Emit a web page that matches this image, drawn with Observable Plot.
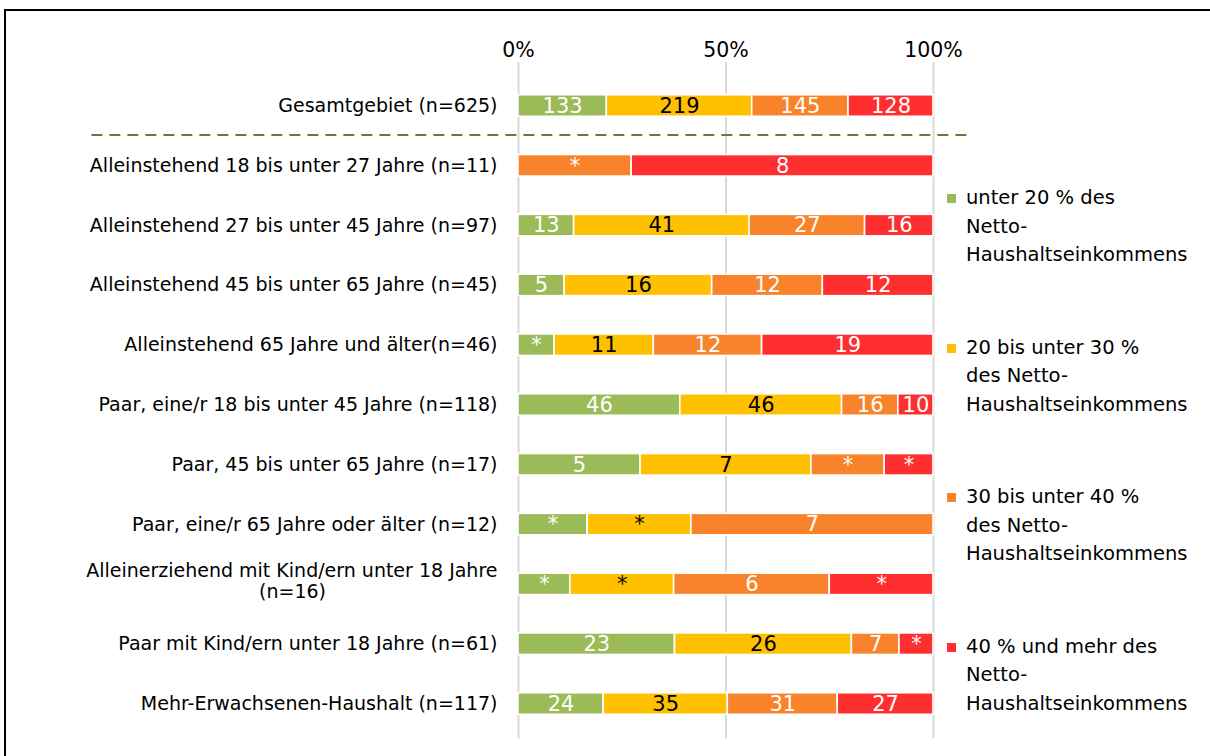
<!DOCTYPE html>
<html>
<head>
<meta charset="utf-8">
<script src="https://cdn.jsdelivr.net/npm/d3@7"></script>
<script src="https://cdn.jsdelivr.net/npm/@observablehq/plot@0.6"></script>
<style>
  html, body { margin: 0; padding: 0; background: #fff; }
  body { width: 1210px; height: 756px; overflow: hidden; position: relative; font-family: "DejaVu Sans", sans-serif; }
  #frame { position: absolute; left: 4px; top: 9px; width: 1300px; height: 900px; border: 2px solid #000; box-sizing: border-box; }
  #chart { position: absolute; left: 0; top: 0; }
  #legend { position: absolute; left: 944px; top: 0; }
  .item { position: absolute; left: 0; width: 266px; font-size: 19.5px; line-height: 28.5px; color: #000; padding-left: 22px; white-space: nowrap; }
  .sw { position: absolute; left: 3px; top: 10px; width: 9px; height: 9px; }
</style>
</head>
<body>
<div id="frame"></div>
<div id="chart"></div>
<div id="legend"></div>
<script>
const categories = [
  "Gesamtgebiet (n=625)",
  "Alleinstehend 18 bis unter 27 Jahre (n=11)",
  "Alleinstehend 27 bis unter 45 Jahre (n=97)",
  "Alleinstehend 45 bis unter 65 Jahre (n=45)",
  "Alleinstehend 65 Jahre und älter(n=46)",
  "Paar, eine/r 18 bis unter 45 Jahre (n=118)",
  "Paar, 45 bis unter 65 Jahre (n=17)",
  "Paar, eine/r 65 Jahre oder älter (n=12)",
  "Alleinerziehend mit Kind/ern unter 18 Jahre (n=16)",
  "Paar mit Kind/ern unter 18 Jahre (n=61)",
  "Mehr-Erwachsenen-Haushalt (n=117)"
];
const seriesNames = [
  "unter 20 % des Netto-Haushaltseinkommens",
  "20 bis unter 30 % des Netto-Haushaltseinkommens",
  "30 bis unter 40 % des Netto-Haushaltseinkommens",
  "40 % und mehr des Netto-Haushaltseinkommens"
];
const legendLines = [
  ["unter 20 % des", "Netto-", "Haushaltseinkommens"],
  ["20 bis unter 30 %", "des Netto-", "Haushaltseinkommens"],
  ["30 bis unter 40 %", "des Netto-", "Haushaltseinkommens"],
  ["40 % und mehr des", "Netto-", "Haushaltseinkommens"]
];
const seriesColors = ["#9BBB59", "#FFC000", "#F8832A", "#FF2F2F"];
const labelColors = ["#fff", "#000", "#fff", "#fff"];
// counts (cells shown as "*" in the chart are estimated from segment widths)
const under20    = [133, 0, 13,  5,  4, 46, 5, 2, 2, 23, 24];
const from20to30 = [219, 0, 41, 16, 11, 46, 7, 3, 4, 26, 35];
const from30to40 = [145, 3, 27, 12, 12, 16, 3, 7, 6,  7, 31];
const over40     = [128, 8, 16, 12, 19, 10, 2, 0, 4,  5, 27];
// [category index, series index] of suppressed (small-n) cells
const suppressed = [[1,2],[4,0],[6,2],[6,3],[7,0],[7,1],[8,0],[8,1],[8,3],[9,3]];
const xTicks = [0, 0.5, 1];
const wrappedCat = categories[8];
const wrappedLines = ["Alleinerziehend mit Kind/ern unter 18 Jahre", "(n=16)"];

const seriesValues = [under20, from20to30, from30to40, over40];
const rows = [];
categories.forEach((c, i) => {
  seriesValues.forEach((vals, s) => {
    if (vals[i] > 0) {
      const sup = suppressed.some(([a, b]) => a === i && b === s);
      rows.push({cat: c, series: seriesNames[s], count: vals[i], label: sup ? "*" : String(vals[i]), lc: labelColors[s]});
    }
  });
});

const stackOpts = {x: "count", y: "cat", z: "series", offset: "normalize", order: seriesNames};

const plot = Plot.plot({
  width: 1210,
  height: 756,
  marginLeft: 518,
  marginRight: 277,
  marginTop: 62,
  marginBottom: 18,
  style: {fontFamily: "DejaVu Sans, sans-serif", fontSize: "19px", color: "#000", background: "transparent"},
  x: {domain: [0, 1], label: null},
  y: {type: "band", domain: categories, range: [75.6, 733.4], paddingInner: 0.64, paddingOuter: 0.32, round: false, label: null},
  color: {domain: seriesNames, range: seriesColors},
  marks: [
    Plot.ruleX(xTicks, {x: d => d, stroke: "#d9d9d9", strokeWidth: 2}),
    Plot.axisX({anchor: "top", ticks: xTicks, tickSize: 0, tickPadding: 6, tickFormat: d => Math.round(d * 100) + "%", fontSize: 20.5, fill: "#000", label: null}),
    Plot.axisY({tickSize: 0, tickPadding: 21, tickFormat: d => d === wrappedCat ? "" : d, fill: "#000", label: null}),
    Plot.text([wrappedLines[0]], {x: 0, y: () => wrappedCat, text: d => d, textAnchor: "end", dx: -21, dy: -13, fill: "#000"}),
    Plot.text([wrappedLines[1]], {x: 0, y: () => wrappedCat, text: d => d, textAnchor: "middle", dx: -226, dy: 8, fill: "#000"}),
    Plot.ruleY([categories[0]], {y: d => d, dy: 29, x1: -1.028, x2: 1.085, stroke: "#6b7a3c", strokeWidth: 2, strokeDasharray: "11,7"}),
    Plot.barX(rows, Plot.stackX({...stackOpts, fill: "series", stroke: "#fff", strokeWidth: 1.6})),
    Plot.text(rows, Plot.stackX({...stackOpts, text: "label", fill: "lc", fontSize: 21}))
  ]
});
document.getElementById("chart").appendChild(plot);

const legend = document.getElementById("legend");
legendLines.forEach((lines, i) => {
  const it = document.createElement("div");
  it.className = "item";
  it.style.top = (184 + i * 149.5) + "px";
  const sw = document.createElement("div");
  sw.className = "sw";
  sw.style.background = seriesColors[i];
  it.appendChild(sw);
  it.insertAdjacentHTML("beforeend", lines.join("<br>"));
  legend.appendChild(it);
});
</script>
</body>
</html>
